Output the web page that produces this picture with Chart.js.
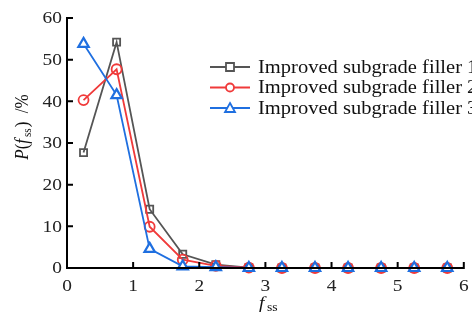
<!DOCTYPE html>
<html>
<head>
<meta charset="utf-8">
<script src="https://cdn.jsdelivr.net/npm/chart.js@4"></script>
<style>
  html, body { margin: 0; padding: 0; background: #fff; }
  #wrap { width: 472px; height: 320px; }
</style>
</head>
<body>
<div id="wrap"><canvas id="chart" width="472" height="320"></canvas></div>
<script>
// data
const fss = [0.25, 0.75, 1.25, 1.75, 2.25, 2.75, 3.25, 3.75, 4.25, 4.75, 5.25, 5.75];
const filler1 = [27.7, 54.2, 14.1, 3.3, 0.8, 0.1, 0, 0, 0, 0, 0, 0];
const filler2 = [40.3, 47.7, 9.9, 2.0, 0.5, 0.1, 0, 0, 0, 0, 0, 0];
const filler3 = [53.8, 41.5, 4.6, 0.4, 0.2, 0, 0, 0, 0, 0, 0, 0];
const seriesNames = ['Improved subgrade filler 1', 'Improved subgrade filler 2', 'Improved subgrade filler 3'];
const xTicks = [0, 1, 2, 3, 4, 5, 6];
const yTicks = [0, 10, 20, 30, 40, 50, 60];

const colors = ['#555555', '#f03a3a', '#1f6fe0'];
const markers = ['rect', 'circle', 'triangle'];
const SERIF = '"Liberation Serif", "DejaVu Serif", serif';
const STRETCH = 1.14; // the source figure is a bit wide

function pts(vals) {
  return fss.map((x, i) => ({ x: x, y: vals[i] }));
}

const datasets = [filler1, filler2, filler3].map((vals, i) => ({
  label: seriesNames[i],
  data: pts(vals),
  borderColor: colors[i],
  backgroundColor: '#ffffff',
  borderWidth: 1.8,
  pointStyle: markers[i],
  pointRadius: i === 2 ? 6 : 5,
  pointBorderWidth: i === 2 ? 2.2 : 1.8,
  pointBackgroundColor: i === 2 ? '#ffffff' : 'rgba(255,255,255,0)',
  tension: 0,
  clip: false,
  order: 2 - i
}));

// stretched text helper
function wideText(ctx, txt, x, y, align) {
  const w = ctx.measureText(txt).width * STRETCH;
  let left = x;
  if (align === 'right') left = x - w;
  else if (align === 'center') left = x - w / 2;
  ctx.save();
  ctx.translate(left, y);
  ctx.scale(STRETCH, 1);
  ctx.textAlign = 'left';
  ctx.fillText(txt, 0, 0);
  ctx.restore();
  return w;
}

// axes, inward ticks, labels, titles and legend
const decor = {
  id: 'decor',
  afterDraw(chart) {
    const ctx = chart.ctx;
    const a = chart.chartArea;
    const xs = chart.scales.x, ys = chart.scales.y;
    ctx.save();
    ctx.strokeStyle = '#000';
    ctx.lineWidth = 2;
    ctx.beginPath();
    ctx.moveTo(a.left, ys.getPixelForValue(60) - 1);
    ctx.lineTo(a.left, a.bottom);
    ctx.lineTo(xs.getPixelForValue(6) + 1, a.bottom);
    yTicks.forEach(v => {
      const y = ys.getPixelForValue(v);
      ctx.moveTo(a.left, y);
      ctx.lineTo(a.left + 6, y);
    });
    xTicks.forEach(v => {
      if (v === 0) return;
      const x = xs.getPixelForValue(v);
      ctx.moveTo(x, a.bottom);
      ctx.lineTo(x, a.bottom - 6);
    });
    ctx.stroke();

    // tick labels
    ctx.fillStyle = '#222';
    ctx.font = '17px ' + SERIF;
    ctx.textBaseline = 'middle';
    yTicks.forEach(v => wideText(ctx, String(v), a.left - 5, ys.getPixelForValue(v) + 1, 'right'));
    xTicks.forEach(v => wideText(ctx, String(v), xs.getPixelForValue(v), a.bottom + 19, 'center'));

    // y title: P(f_ss) /%
    ctx.fillStyle = '#111';
    ctx.save();
    ctx.translate(22, 127);
    ctx.rotate(-Math.PI / 2);
    ctx.scale(1, STRETCH);
    const parts = [
      ['italic 17px ' + SERIF, 'P', 0, 0],
      ['17px ' + SERIF, '(', 0, 0],
      ['italic 17px ' + SERIF, 'f', 0, 2],
      ['11px ' + SERIF, 'ss', 4, 1],
      ['17px ' + SERIF, ')  /%', 0, 0]
    ];
    let w = 0;
    parts.forEach(p => { ctx.font = p[0]; w += ctx.measureText(p[1]).width + p[3]; });
    let cx = -w / 2;
    ctx.textBaseline = 'middle';
    parts.forEach(p => {
      ctx.font = p[0];
      ctx.fillText(p[1], cx, 1 + p[2]);
      cx += ctx.measureText(p[1]).width + p[3];
    });
    ctx.restore();

    // x title: f_ss
    ctx.textBaseline = 'alphabetic';
    ctx.font = 'italic 17px ' + SERIF;
    wideText(ctx, 'f', 259, 308, 'left');
    ctx.font = '12px ' + SERIF;
    wideText(ctx, 'ss', 267, 311, 'left');

    // legend
    ctx.textBaseline = 'middle';
    seriesNames.forEach((name, i) => {
      const y = 67 + i * 20.5;
      ctx.strokeStyle = colors[i];
      ctx.lineWidth = 1.8;
      ctx.beginPath();
      ctx.moveTo(210, y);
      ctx.lineTo(250, y);
      ctx.stroke();
      ctx.fillStyle = '#fff';
      ctx.beginPath();
      if (i === 0) {
        ctx.rect(226, y - 4, 8, 8);
      } else if (i === 1) {
        ctx.arc(230, y, 4, 0, Math.PI * 2);
      } else {
        ctx.moveTo(230, y - 5);
        ctx.lineTo(235, y + 4);
        ctx.lineTo(225, y + 4);
        ctx.closePath();
      }
      ctx.fill();
      ctx.stroke();
      ctx.fillStyle = '#111';
      ctx.font = '18px ' + SERIF;
      wideText(ctx, name, 258, y + 1, 'left');
    });
    ctx.restore();
  }
};

new Chart(document.getElementById('chart'), {
  type: 'line',
  data: { datasets: datasets },
  plugins: [decor],
  options: {
    responsive: false,
    animation: false,
    layout: { padding: { left: 0, right: 6, top: 18, bottom: 0 } },
    plugins: { legend: { display: false }, tooltip: { enabled: false } },
    scales: {
      x: {
        type: 'linear',
        min: 0, max: 6,
        afterBuildTicks: s => { s.ticks = xTicks.map(v => ({ value: v })); },
        afterFit: s => { s.height = 52; },
        grid: { display: false },
        border: { display: false },
        ticks: { display: false }
      },
      y: {
        min: 0, max: 60,
        afterBuildTicks: s => { s.ticks = yTicks.map(v => ({ value: v })); },
        afterFit: s => { s.width = 67; },
        grid: { display: false },
        border: { display: false },
        ticks: { display: false }
      }
    }
  }
});
</script>
</body>
</html>
